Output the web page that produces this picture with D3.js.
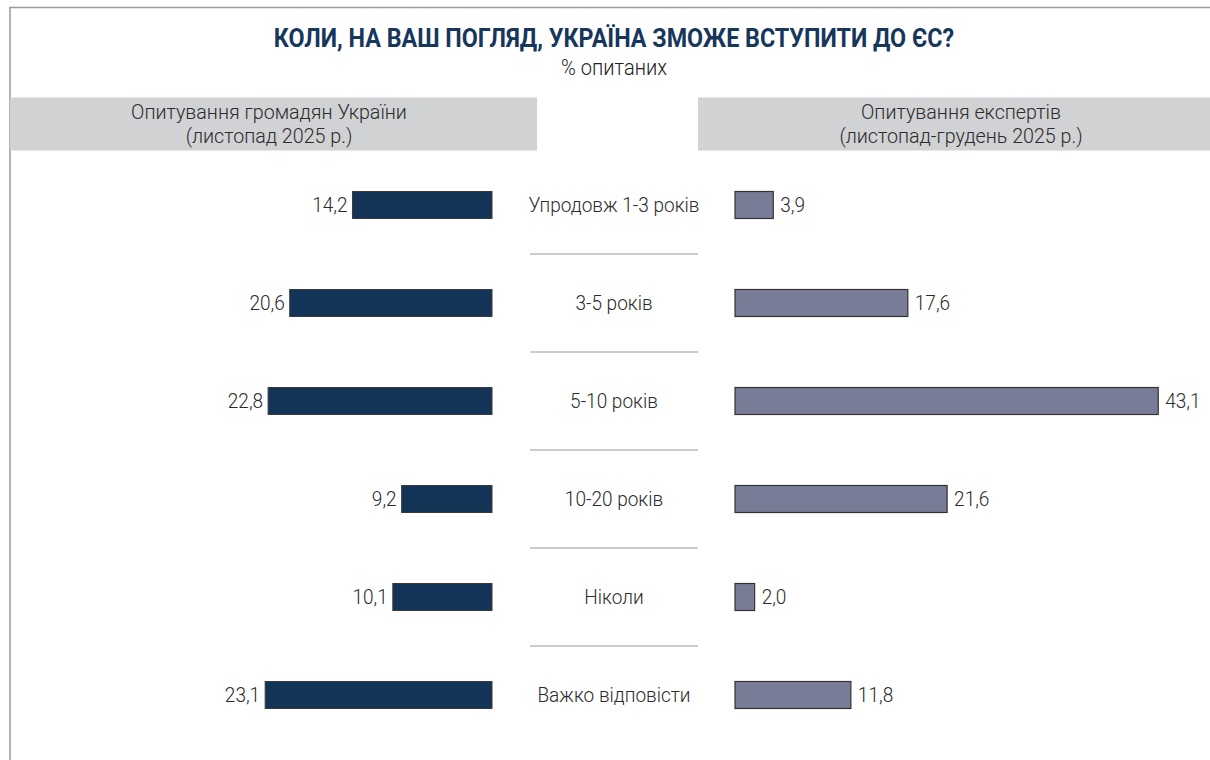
<!DOCTYPE html>
<html>
<head>
<meta charset="utf-8">
<script src="https://cdn.jsdelivr.net/npm/d3@7"></script>
<style>
	body { margin: 0; background: #fff; }
	svg { display: block; }
	text { font-family: Roboto, "DejaVu Sans Condensed", sans-serif; font-weight: 300; }
</style>
</head>
<body>
<svg id="svg_main" width="1210" height="760"></svg>
<script>
var categories = ["Упродовж 1-3 років", "3-5 років", "5-10 років", "10-20 років", "Ніколи", "Важко відповісти"];
var citizens = [14.2, 20.6, 22.8, 9.2, 10.1, 23.1];
var experts = [3.9, 17.6, 43.1, 21.6, 2.0, 11.8];
var headers = [
	["Опитування громадян України", "(листопад 2025 р.)"],
	["Опитування експертів", "(листопад-грудень 2025 р.)"]
];
var title_text = "КОЛИ, НА ВАШ ПОГЛЯД, УКРАЇНА ЗМОЖЕ ВСТУПИТИ ДО ЄС?",
	subtitle_text = "% опитаних";

var svg = d3.select("#svg_main");
var fmt = v => d3.format(".1f")(v).replace(".", ",");

var y = d3.scalePoint().domain(categories).range([205, 695]),
	x = d3.scaleLinear().domain([0, 1]).range([0, 9.82]),
	barH = 27,
	leftEnd = 492,
	rightStart = 735,
	mid = 613;

// the original uses a condensed face: squeeze text horizontally around its anchor
function squeeze(sel, k) {
	sel.each(function() {
		let t = d3.select(this), ax = +t.attr("x");
		t.attr("transform", `translate(${ax},0) scale(${k},1) translate(${-ax},0)`);
	});
}
function natural(str, size, weight) {
	let t = svg.append("text").attr("font-size", size).style("font-weight", weight || 300).text(str);
	let w = t.node().getComputedTextLength();
	t.remove();
	return w;
}

var kTitle = 681 / natural(title_text, "25px", "bold"),
	kSub = 106 / natural(subtitle_text, "22px"),
	kHead = 276 / natural(headers[0][0], "20px"),
	kCat = 171 / natural(categories[0], "20px");

// frame
svg.append("path")
	.attr("d", "M10,760 L10,7.5 L1210,7.5")
	.attr("fill", "none")
	.attr("stroke", "#999")
	.attr("stroke-width", 1.5);

svg.append("text")
	.attr("x", mid + 1)
	.attr("y", 47.5)
	.attr("text-anchor", "middle")
	.attr("font-size", "25px")
	.style("font-weight", "bold")
	.attr("fill", "#16365c")
	.text(title_text)
	.call(squeeze, kTitle);

svg.append("text")
	.attr("x", mid + 1)
	.attr("y", 75)
	.attr("text-anchor", "middle")
	.attr("font-size", "22px")
	.attr("fill", "#222")
	.text(subtitle_text)
	.call(squeeze, kSub);

// header boxes
var boxes = [{ x0: 10, x1: 537, cx: 269, lines: headers[0] }, { x0: 698, x1: 1210, cx: 961, lines: headers[1] }];
for (let b of boxes) {
	svg.append("rect")
		.attr("x", b.x0)
		.attr("y", 97.5)
		.attr("width", b.x1 - b.x0)
		.attr("height", 53)
		.attr("fill", "#d1d2d4");
	b.lines.forEach((l, i) => {
		svg.append("text")
			.attr("x", b.cx)
			.attr("y", 119 + i * 24)
			.attr("text-anchor", "middle")
			.attr("font-size", "20px")
			.attr("fill", "#2b2b2b")
			.text(l)
			.call(squeeze, kHead);
	});
}

// separators
var seps = categories.slice(1).map((c, i) => (y(categories[i]) + y(c)) / 2);
svg.selectAll(".sep")
	.data(seps)
	.enter().append("line")
	.attr("class", "sep")
	.attr("x1", 530)
	.attr("x2", 698)
	.attr("y1", d => d)
	.attr("y2", d => d)
	.attr("stroke", "#999")
	.attr("stroke-width", 1.2);

svg.selectAll(".cat")
	.data(categories)
	.enter().append("text")
	.attr("class", "cat")
	.attr("x", mid + 1)
	.attr("y", d => y(d) + 7)
	.attr("text-anchor", "middle")
	.attr("font-size", "20px")
	.attr("fill", "#2b2b2b")
	.text(d => d)
	.call(squeeze, kCat);

// citizens
svg.selectAll(".barL")
	.data(citizens)
	.enter().append("rect")
	.attr("class", "barL")
	.attr("x", d => leftEnd - x(d))
	.attr("y", (d, i) => y(categories[i]) - barH / 2)
	.attr("width", d => x(d))
	.attr("height", barH)
	.attr("fill", "#133457")
	.attr("stroke", "#3a3a3a")
	.attr("stroke-width", 1);

svg.selectAll(".valL")
	.data(citizens)
	.enter().append("text")
	.attr("class", "valL")
	.attr("x", d => leftEnd - x(d) - 5)
	.attr("y", (d, i) => y(categories[i]) + 7)
	.attr("text-anchor", "end")
	.attr("font-size", "20px")
	.attr("fill", "#2b2b2b")
	.text(fmt)
	.call(squeeze, kCat);

// experts
svg.selectAll(".barR")
	.data(experts)
	.enter().append("rect")
	.attr("class", "barR")
	.attr("x", rightStart)
	.attr("y", (d, i) => y(categories[i]) - barH / 2)
	.attr("width", d => x(d))
	.attr("height", barH)
	.attr("fill", "#787c96")
	.attr("stroke", "#333")
	.attr("stroke-width", 1.2);

svg.selectAll(".valR")
	.data(experts)
	.enter().append("text")
	.attr("class", "valR")
	.attr("x", d => rightStart + x(d) + 7)
	.attr("y", (d, i) => y(categories[i]) + 7)
	.attr("font-size", "20px")
	.attr("fill", "#2b2b2b")
	.text(fmt)
	.call(squeeze, kCat);
</script>
</body>
</html>
